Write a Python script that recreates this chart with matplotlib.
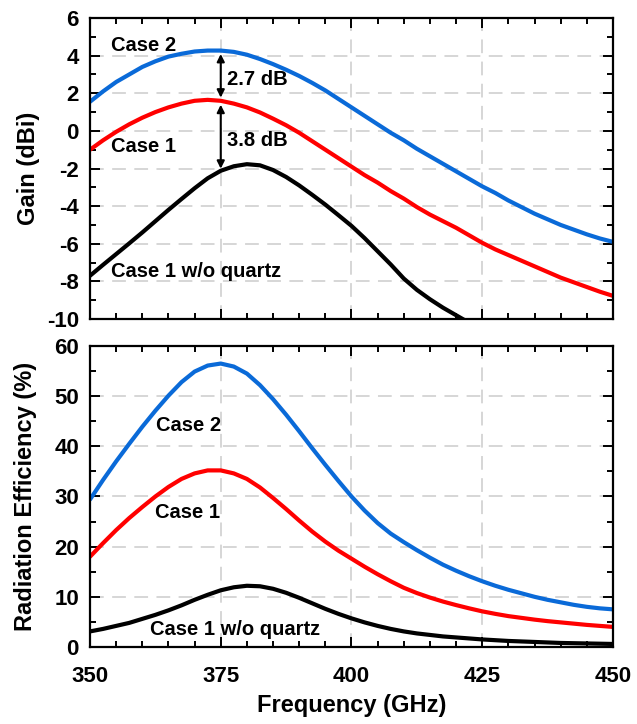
import numpy as np
import matplotlib
matplotlib.use("Agg")
import matplotlib.pyplot as plt
from matplotlib.ticker import MultipleLocator

plt.rcParams['font.family'] = ['Liberation Sans', 'DejaVu Sans']
plt.rcParams['font.weight'] = 'bold'
plt.rcParams['axes.unicode_minus'] = False

freq = np.arange(350, 452.5, 2.5)

gain_case2 = [1.55, 2.1, 2.6, 3.0, 3.4, 3.7, 3.95, 4.1, 4.22, 4.27, 4.27, 4.2, 4.05,
              3.82, 3.55, 3.25, 2.92, 2.55, 2.15, 1.7, 1.25, 0.8, 0.35, -0.1, -0.5,
              -0.95, -1.35, -1.75, -2.15, -2.55, -2.95, -3.3, -3.7, -4.05, -4.4,
              -4.7, -5.0, -5.25, -5.5, -5.72, -5.9]
gain_case1 = [-1.0, -0.5, -0.05, 0.35, 0.7, 1.0, 1.25, 1.45, 1.6, 1.65, 1.6, 1.45, 1.25,
              0.98, 0.65, 0.3, -0.1, -0.55, -1.0, -1.45, -1.9, -2.35, -2.75, -3.2, -3.6,
              -4.05, -4.45, -4.8, -5.15, -5.55, -5.95, -6.3, -6.6, -6.9, -7.2,
              -7.5, -7.8, -8.05, -8.3, -8.55, -8.77]
gain_bare = [-7.7, -7.12, -6.55, -5.98, -5.4, -4.8, -4.2, -3.62, -3.05, -2.52, -2.12,
             -1.88, -1.77, -1.83, -2.08, -2.45, -2.9, -3.4, -3.92, -4.48, -5.05, -5.7,
             -6.4, -7.1, -7.85, -8.45, -8.95, -9.4, -9.8, -10.2]

eff_case2 = [29.4, 33.3, 37.0, 40.5, 43.9, 47.1, 50.1, 52.8, 54.9, 56.1, 56.5, 55.9, 54.5,
             52.2, 49.4, 46.3, 43.0, 39.6, 36.3, 33.1, 30.0, 27.2, 24.7, 22.6, 20.9,
             19.3, 17.8, 16.4, 15.2, 14.1, 13.1, 12.2, 11.4, 10.7, 10.0, 9.4, 8.9,
             8.4, 8.0, 7.7, 7.5]
eff_case1 = [18.0, 20.7, 23.3, 25.7, 27.9, 30.0, 31.9, 33.5, 34.6, 35.2, 35.2, 34.6, 33.5,
             31.8, 29.7, 27.5, 25.2, 23.0, 21.0, 19.2, 17.6, 16.0, 14.5, 13.1, 11.8,
             10.75, 9.85, 9.05, 8.35, 7.7, 7.1, 6.6, 6.15, 5.8, 5.45, 5.15, 4.9, 4.65,
             4.4, 4.2, 4.0]
eff_bare = [3.1, 3.6, 4.2, 4.8, 5.6, 6.4, 7.3, 8.3, 9.4, 10.4, 11.3, 11.9, 12.2, 12.1,
            11.6, 10.8, 9.8, 8.7, 7.6, 6.6, 5.7, 4.9, 4.2, 3.6, 3.1, 2.7, 2.4, 2.1,
            1.9, 1.7, 1.5, 1.35, 1.2, 1.1, 1.0, 0.9, 0.8, 0.75, 0.7, 0.65, 0.6]

# gain differences marked at 375 GHz
arrow_freq = 375
gap_c2_c1 = 2.7
gap_c1_bare = 3.8

BLUE = '#0A6AD8'
RED = '#FF0000'
BLACK = '#000000'
LW = 3.0
TICK_FS = 16
LABEL_FS = 17
NOTE_FS = 14.5

fig = plt.figure(figsize=(6.37, 7.24), dpi=100)
ax1 = fig.add_axes([0.1413, 0.5594, 0.821, 0.4157])
ax2 = fig.add_axes([0.1413, 0.1064, 0.821, 0.4157])


def style(ax):
    ax.set_xlim(350, 450)
    ax.xaxis.set_major_locator(MultipleLocator(25))
    ax.xaxis.set_minor_locator(MultipleLocator(5))
    ax.grid(True, which='major', color='#cccccc', linestyle=(0, (9, 5.5)), linewidth=1.1)
    ax.set_axisbelow(True)
    for s in ax.spines.values():
        s.set_linewidth(1.6)
    ax.tick_params(which='both', direction='in', top=True, right=True, width=1.4)
    ax.tick_params(which='major', length=7, labelsize=TICK_FS)
    ax.tick_params(axis='y', which='major', pad=8)
    ax.tick_params(axis='x', which='major', pad=14)
    ax.tick_params(which='minor', length=4)
    for lab in ax.get_xticklabels() + ax.get_yticklabels():
        lab.set_fontweight('bold')


# Gain panel
ax1.plot(freq, gain_case2, color=BLUE, lw=LW, solid_capstyle='round')
ax1.plot(freq, gain_case1, color=RED, lw=LW, solid_capstyle='round')
ax1.plot(freq[:len(gain_bare)], gain_bare, color=BLACK, lw=LW, solid_capstyle='round')
ax1.set_ylim(-10, 6)
ax1.yaxis.set_major_locator(MultipleLocator(2))
ax1.yaxis.set_minor_locator(MultipleLocator(1))
style(ax1)
ax1.tick_params(labelbottom=False)
ax1.set_ylabel('Gain (dBi)', fontsize=LABEL_FS, fontweight='bold')
ax1.yaxis.set_label_coords(-0.096, 0.5)

i375 = list(freq).index(arrow_freq)
top = gain_case2[i375]
mid = top - gap_c2_c1
low = mid - gap_c1_bare
akw = dict(arrowstyle='<|-|>', color='black', lw=1.5, mutation_scale=11,
           shrinkA=0, shrinkB=0)
ax1.annotate('', xy=(arrow_freq, top - 0.18), xytext=(arrow_freq, mid + 0.2), arrowprops=akw)
ax1.annotate('', xy=(arrow_freq, mid - 0.18), xytext=(arrow_freq, low + 0.22), arrowprops=akw)
ax1.text(376.2, 2.75, f'{gap_c2_c1} dB', fontsize=NOTE_FS, fontweight='bold',
         va='center', ha='left')
ax1.text(376.2, -0.5, f'{gap_c1_bare} dB', fontsize=NOTE_FS, fontweight='bold',
         va='center', ha='left')
ax1.text(354, 4.55, 'Case 2', fontsize=NOTE_FS, fontweight='bold', va='center', ha='left')
ax1.text(354, -0.85, 'Case 1', fontsize=NOTE_FS, fontweight='bold', va='center', ha='left')
ax1.text(354, -7.5, 'Case 1 w/o quartz', fontsize=NOTE_FS, fontweight='bold',
         va='center', ha='left')

# Radiation efficiency panel
ax2.plot(freq, eff_case2, color=BLUE, lw=LW, solid_capstyle='round')
ax2.plot(freq, eff_case1, color=RED, lw=LW, solid_capstyle='round')
ax2.plot(freq, eff_bare, color=BLACK, lw=LW, solid_capstyle='round')
ax2.set_ylim(0, 60)
ax2.yaxis.set_major_locator(MultipleLocator(10))
ax2.yaxis.set_minor_locator(MultipleLocator(5))
style(ax2)
ax2.set_ylabel('Radiation Efficiency (%)', fontsize=LABEL_FS, fontweight='bold')
ax2.yaxis.set_label_coords(-0.101, 0.5)
ax2.set_xlabel('Frequency (GHz)', fontsize=LABEL_FS, fontweight='bold', labelpad=5)
ax2.text(362.7, 44.2, 'Case 2', fontsize=NOTE_FS, fontweight='bold', va='center', ha='left')
ax2.text(362.4, 26.8, 'Case 1', fontsize=NOTE_FS, fontweight='bold', va='center', ha='left')
ax2.text(361.5, 3.4, 'Case 1 w/o quartz', fontsize=NOTE_FS, fontweight='bold',
         va='center', ha='left')

fig.savefig('out.png', dpi=100)
